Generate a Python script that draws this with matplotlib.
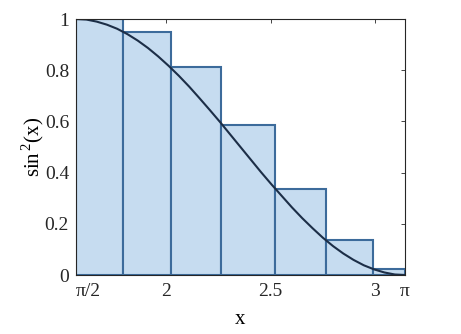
import numpy as np
import matplotlib
matplotlib.use("Agg")
import matplotlib.pyplot as plt

plt.rcParams['font.family'] = ['Liberation Serif', 'DejaVu Serif']
plt.rcParams['mathtext.fontset'] = 'custom'
plt.rcParams['mathtext.rm'] = 'Liberation Serif'

# Bar edges (left edges + final right edge) and heights
bar_edges = [1.5708, 1.796, 2.025, 2.263, 2.522, 2.763, 2.990, 3.1416]
bar_heights = [1.0, 0.95, 0.814, 0.587, 0.336, 0.137, 0.023]

# Curve points
curve_x = [1.571, 1.620, 1.669, 1.718, 1.767, 1.816, 1.865, 1.914, 1.963,
           2.013, 2.062, 2.111, 2.160, 2.209, 2.258, 2.307, 2.356, 2.405,
           2.454, 2.503, 2.553, 2.602, 2.651, 2.700, 2.749, 2.798, 2.847,
           2.896, 2.945, 2.994, 3.043, 3.093, 3.142]
curve_y = [1.000, 0.998, 0.990, 0.978, 0.962, 0.941, 0.916, 0.887, 0.854,
           0.817, 0.778, 0.736, 0.691, 0.645, 0.598, 0.549, 0.500, 0.451,
           0.402, 0.355, 0.309, 0.264, 0.222, 0.183, 0.146, 0.113, 0.084,
           0.059, 0.038, 0.022, 0.010, 0.002, 0.000]

xtick_vals = [1.5708, 2.0, 2.5, 3.0, 3.1416]
xtick_labels = ['π/2', '2', '2.5', '3', 'π']
ytick_vals = [0, 0.2, 0.4, 0.6, 0.8, 1]
ytick_labels = ['0', '0.2', '0.4', '0.6', '0.8', '1']

fig = plt.figure(figsize=(4.61, 3.34), dpi=100)
ax = fig.add_axes([0.165, 0.1766, 0.7135, 0.7664])

lefts = bar_edges[:-1]
widths = [b - a for a, b in zip(bar_edges[:-1], bar_edges[1:])]
ax.bar(lefts, bar_heights, width=widths, align='edge',
       color='#C6DCF0', edgecolor='#3C6B9B', linewidth=1.5, zorder=2)
ax.plot(curve_x, curve_y, color='#1C2E47', linewidth=1.5, zorder=3)

ax.set_xlim(1.5708, 3.1416)
ax.set_ylim(0, 1)
ax.set_xticks(xtick_vals)
ax.set_xticklabels(xtick_labels)
ax.set_yticks(ytick_vals)
ax.set_yticklabels(ytick_labels)
ax.tick_params(direction='in', length=3, width=0.6, labelsize=14,
               top=True, right=True, colors='#262626')
ax.tick_params(axis='x', pad=6)
ax.tick_params(axis='y', pad=5)
ax.get_xticklabels()[0].set_horizontalalignment('left')
for s in ax.spines.values():
    s.set_color('#262626')
    s.set_linewidth(0.8)
    s.set_zorder(4)

ax.set_xlabel('x', fontsize=15, labelpad=7)
ax.set_ylabel(r'$\mathrm{sin}^{\,2}$(x)', fontsize=15)
ax.yaxis.set_label_coords(-0.092, 0.5)

fig.savefig('out.png', dpi=100)
